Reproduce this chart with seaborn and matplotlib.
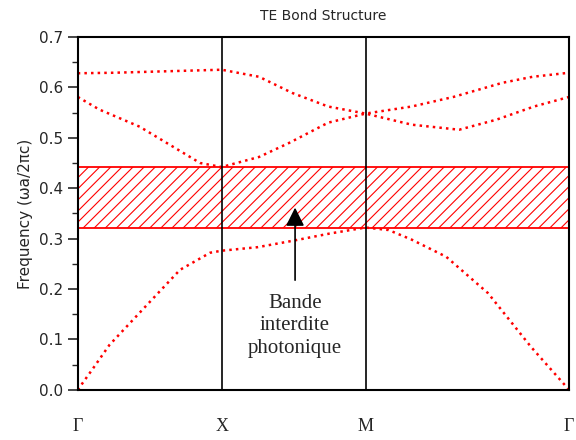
import numpy as np
import pandas as pd
import seaborn as sns
import matplotlib.pyplot as plt
from matplotlib.ticker import MultipleLocator

# path positions: Gamma=0, X=1, M=2, Gamma=2+sqrt(2)
k_ticks = [0, 1, 2, 3.414]
k_labels = ['\u0393', 'X', 'M', '\u0393']

# band 1 (lowest)
k1 = [0, 0.1, 0.22, 0.43, 0.71, 0.92, 1.0, 1.25, 1.5, 1.75, 2.0, 2.16, 2.32, 2.56, 2.85, 3.15, 3.414]
f1 = [0, 0.040, 0.089, 0.153, 0.238, 0.272, 0.276, 0.283, 0.296, 0.310, 0.322, 0.317, 0.298, 0.264, 0.192, 0.085, 0]

# band 2
k2 = [0, 0.15, 0.43, 0.64, 0.85, 1.0, 1.26, 1.47, 1.74, 2.0, 2.32, 2.65, 2.91, 3.17, 3.414]
f2 = [0.581, 0.556, 0.522, 0.486, 0.450, 0.442, 0.462, 0.490, 0.530, 0.548, 0.526, 0.516, 0.536, 0.562, 0.581]

# band 3
k3 = [0, 0.25, 0.5, 0.75, 1.0, 1.26, 1.49, 1.74, 2.0, 2.32, 2.61, 2.95, 3.16, 3.414]
f3 = [0.628, 0.629, 0.631, 0.633, 0.635, 0.621, 0.589, 0.562, 0.548, 0.562, 0.581, 0.609, 0.621, 0.629]

gap_lo, gap_hi = 0.321, 0.442

sns.set_theme(style='ticks')
plt.rcParams['font.family'] = ['DejaVu Sans']
plt.rcParams['hatch.color'] = 'red'
plt.rcParams['hatch.linewidth'] = 0.8

fig = plt.figure(figsize=(5.76, 4.4), dpi=100)
ax = fig.add_axes([0.135, 0.114, 0.853, 0.802])

for k, f in [(k1, f1), (k2, f2), (k3, f3)]:
    df = pd.DataFrame({'k': k, 'f': f})
    sns.lineplot(data=df, x='k', y='f', ax=ax, color='red', linestyle=':', linewidth=1.8)

# photonic band gap
ax.axhspan(gap_lo, gap_hi, facecolor='none', edgecolor='red', hatch='///', linewidth=0)
for y in [gap_lo, gap_hi]:
    ax.axhline(y, color='red', linewidth=1.3)

for kv in k_ticks[1:3]:
    ax.axvline(kv, color='black', linewidth=1.2)

ax.set_xlim(0, 3.414)
ax.set_ylim(0, 0.7)
ax.set_xticks(k_ticks)
ax.set_xticklabels(k_labels, family='Liberation Serif', fontsize=13)
ax.tick_params(axis='x', length=0, pad=20)
ax.yaxis.set_major_locator(MultipleLocator(0.1))
ax.yaxis.set_minor_locator(MultipleLocator(0.05))
ax.yaxis.set_major_formatter(plt.FormatStrFormatter('%.1f'))
ax.tick_params(axis='y', which='major', length=7, width=1.2, labelsize=11, direction='out')
ax.tick_params(axis='y', which='minor', length=4, width=1.0, direction='out')
for s in ax.spines.values():
    s.set_color('black')
    s.set_linewidth(1.5)
    s.set_visible(True)

ax.set_xlabel('')
ax.set_ylabel('Frequency (\u03c9a/2\u03c0c)', fontsize=11)
ax.set_title('TE Bond Structure', fontsize=10, pad=12)

ax.annotate('', xy=(1.51, 0.367), xytext=(1.51, 0.212),
            arrowprops=dict(arrowstyle='-|>', mutation_scale=28, color='black', lw=1.2))
ax.text(1.51, 0.127, 'Bande\ninterdite\nphotonique', ha='center', va='center',
        family='Liberation Serif', fontsize=15, linespacing=1.25)

fig.savefig('out.png', dpi=100)
